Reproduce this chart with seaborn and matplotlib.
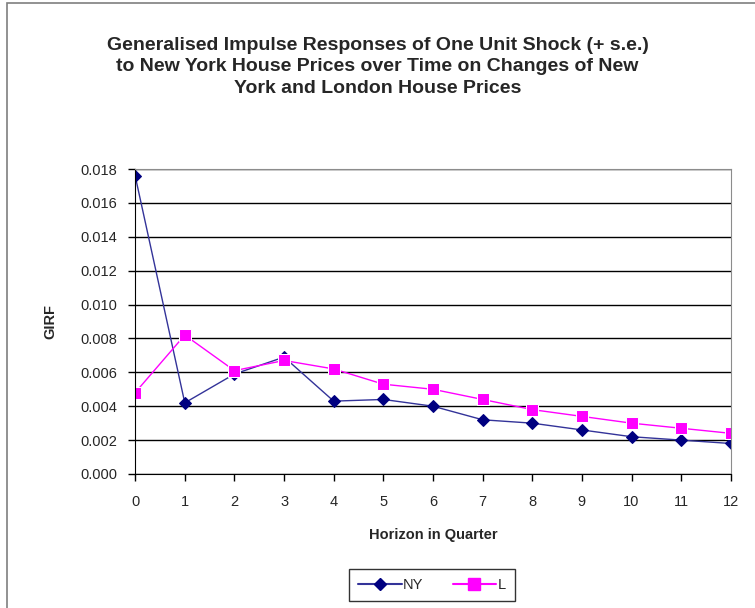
import pandas as pd
import matplotlib.pyplot as plt
import seaborn as sns
from matplotlib.patches import Rectangle
from matplotlib.lines import Line2D

horizon = list(range(13))
ny = [0.0176, 0.0042, 0.0059, 0.0069, 0.0043, 0.0044, 0.0040, 0.0032, 0.0030, 0.0026, 0.0022, 0.0020, 0.0018]
lon = [0.0048, 0.0082, 0.0061, 0.0067, 0.0062, 0.0053, 0.0050, 0.0044, 0.0038, 0.0034, 0.0030, 0.0027, 0.0024]
yticks = [0.000, 0.002, 0.004, 0.006, 0.008, 0.010, 0.012, 0.014, 0.016, 0.018]

df = pd.DataFrame({"Horizon": horizon * 2,
                   "GIRF": ny + lon,
                   "series": ["NY"] * 13 + ["L"] * 13})

sns.set_style("white")
plt.rcParams["font.family"] = ["Liberation Sans", "DejaVu Sans"]

fig = plt.figure(figsize=(7.55, 6.08), dpi=100)
ax = fig.add_axes([0.179, 0.2204, 0.789, 0.5016])
fig.patches.append(Rectangle((0.009, -0.01), 1.0, 1.005, transform=fig.transFigure,
                             fill=False, edgecolor="#7f7f7f", linewidth=1.2))

sns.lineplot(data=df, x="Horizon", y="GIRF", hue="series", style="series",
             palette={"NY": "#000080", "L": "#ff00ff"},
             markers={"NY": "D", "L": "s"}, dashes=False,
             markersize=7, linewidth=1.0, ax=ax, legend=False)
for ln, c in zip(ax.lines, ["#333399", "#ff00ff"]):
    ln.set_color(c)
ax.lines[0].set_markerfacecolor("#000080")
ax.lines[0].set_markeredgecolor("#000080")
ax.lines[0].set_markersize(6)
ax.lines[1].set_markersize(8)

ax.set_xlim(0, 12)
ax.set_ylim(0, 0.018)
ax.set_xticks(horizon)
ax.set_yticks(yticks)
ax.set_yticklabels([f"{v:.3f}" for v in yticks])
ax.grid(axis="y", color="black", linewidth=1.0)
ax.set_axisbelow(True)
for s in ["top", "right"]:
    ax.spines[s].set_color("#8c8c8c")
ax.spines["left"].set_color("black")
ax.spines["bottom"].set_color("black")
ax.tick_params(axis="both", direction="out", length=5, width=1, color="black",
               labelsize=10.5, left=True, bottom=True)
ax.tick_params(axis="x", pad=10)
ax.tick_params(axis="y", pad=8)

ax.set_xlabel("Horizon in Quarter", fontsize=10.5, fontweight="bold", labelpad=14)
ax.set_ylabel("GIRF", fontsize=10.5, fontweight="bold", labelpad=16)

fig.text(0.5, 0.89, "Generalised Impulse Responses of One Unit Shock (+ s.e.)\n"
         "to New York House Prices over Time on Changes of New\n"
         "York and London House Prices",
         ha="center", va="center", fontsize=14, fontweight="bold", linespacing=1.35)

handles = [Line2D([], [], color="#333399", marker="D", markerfacecolor="#000080",
                  markeredgecolor="#000080", markersize=6),
           Line2D([], [], color="#ff00ff", marker="s", markersize=8)]
leg = fig.legend(handles, ["NY", "L"], loc="center", bbox_to_anchor=(0.572, 0.038),
                 ncol=2, frameon=True, fancybox=False, fontsize=10.5,
                 handlelength=3, columnspacing=2.0, handletextpad=0.1,
                 borderpad=0.6)
leg.get_frame().set_edgecolor("black")
leg.get_frame().set_linewidth(1.0)

fig.savefig("out.png", dpi=100)
